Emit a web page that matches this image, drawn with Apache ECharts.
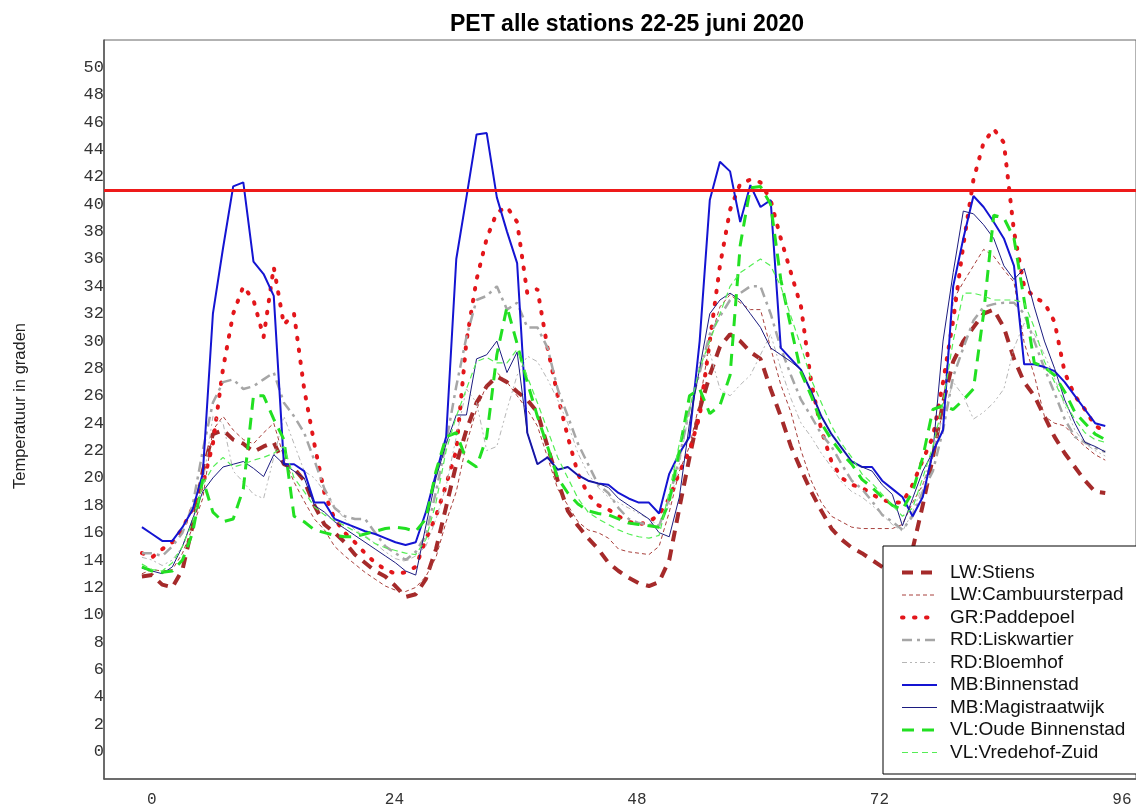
<!DOCTYPE html>
<html>
<head>
<meta charset="utf-8">
<script src="https://cdn.jsdelivr.net/npm/echarts@6/dist/echarts.min.js"></script>
<style>html,body{margin:0;padding:0;background:#fff;}#c{width:1136px;height:808px;}</style>
</head>
<body>
<div id="c"></div>
<script>
// hour index 0..95
const hours = [...Array(96).keys()];
const xTickLabels = [0, 24, 48, 72, 96];
const threshold = 41;

const lwStiens = [12.8,12.9,12.2,12,13.3,16.5,20.5,23.2,23.5,22.8,22.5,21.9,22.3,22.6,21,20.7,19.8,18,16.6,16,15.3,14.4,13.8,13.2,
12.8,12.1,11.3,11.5,12.6,14.8,17.9,21,23.5,25.5,26.7,27.4,27,26.3,25.7,24.8,22.3,19.8,17.6,16.5,15.6,14.8,13.8,13.2,
12.7,12.3,12.1,12.4,14,17.8,21.5,25,27.5,29.6,30.5,30,29.2,28.7,26.5,24.5,22.3,20.6,19,17.6,16.3,15.5,14.9,14.5,
14,13.5,13,13.2,14.8,18,21.5,25.5,28.5,30,31,32,32.3,31,28.7,27,26,24.5,23,21.8,20.8,19.8,19,18.9];
const lwCambuur = [13,13.3,13.2,13.3,14.5,16.4,18.5,23.5,24.5,23.5,22.8,22.5,23.3,24,21.5,19.7,18.3,17,16.2,15,14.3,13.7,13.1,12.6,
12.1,11.8,11.7,12,12.8,14.2,16.8,19,22.5,25,26.8,27.7,27,26,25,23.8,21.5,19.2,18,16.8,16.2,16,15.6,14.8,
14.6,14.5,14.4,15,17.5,20.5,22.3,25.5,30,32.5,33.4,32.8,32.3,32.3,29.5,26.8,24.8,22,19.8,18.2,17.2,16.8,16.4,16.3,
16.3,16.3,16.3,16.6,18.2,19.5,21.5,25,33,34.3,35.5,36.7,36.2,35.2,34.3,29.9,27.5,24.5,24,23.8,23,22.3,21.7,21.3];
const grPaddepoel = [14.5,14.2,14.8,15.3,16.3,17.8,19.5,22.5,28,32,34,33,30.3,35.4,31.2,32,26.5,22.5,18.9,17,16,15.3,14.5,13.8,
13.3,13,13.1,13.5,15.5,17.2,19.5,22,30,34.5,37.5,39.4,39.8,38.7,33.5,33.8,29.5,26,23,20.3,18.8,18,17.7,17.2,
16.8,16.6,16.8,17.3,18.5,20.4,22,24.5,30,35.5,39.6,41.5,41.8,41.6,40.3,37.5,35,32.5,27,23.5,21.2,20,19.5,19.3,
18.8,18.4,18.2,18.2,19.5,21.3,23,27,31.5,37,41.8,44.5,45.5,44.5,38,34,33.2,32.8,31.4,27.7,26,25,23.8,23.4];
const rdLiskwartier = [14.5,14.5,14.3,15,16,18,22,25.5,27,27.2,26.5,26.7,27.2,27.7,25.5,24.5,23.3,21.3,19.2,17.8,17.2,17,17,16,
15,14.5,14,14.6,15.8,19,22.6,26.7,30.3,33,33.3,34,32.3,32.8,31,31,29.5,26.5,24.5,22.5,21,19.5,18.9,17.8,
17,16.7,16.6,16.5,18.5,21.5,25,27.7,30.5,31.8,33,33.5,34,34,32,29.5,27.5,25.7,24.5,23.2,22.3,21,19.8,19.2,
18.3,17.3,16.8,16.2,17.2,19,20.5,23.5,27.4,29.5,31.5,32.5,32.7,32.8,32.8,32,30,28,26.2,24.3,23,22.6,22.2,21.9];
const rdBloemhof = [14.2,14,13.6,14,15,17,19.5,24.5,24,20.5,19.7,18.8,18.5,21.5,24.5,22.5,20.5,20,19,17.9,17,16.2,15.8,15.2,
14.6,14.1,13.9,14.3,15,17,19.4,23,26.5,25.5,22,22.3,25,27.5,28.9,28.5,27.2,25.7,24,21.8,20.3,19.3,18.6,18.2,
17.8,17.4,17,16.5,18,21,25,28.5,29.2,26.5,26,26.8,27.5,29,30.5,28,25.8,24,23,21.8,20.8,19.7,19,18.6,
18,17.3,16.6,16.1,17.5,19.5,22,24.5,27,26,24.3,24.8,25.5,26.5,29.5,31.3,30.5,29,27.3,25.3,23.5,22.5,22,21.6];
const mbBinnenstad = [16.4,15.9,15.4,15.4,16.4,17.7,20.3,32,36.8,41.3,41.6,35.8,34.9,33.3,21,21,20.5,18.2,18.2,17,16.7,16.4,16.1,15.9,
15.6,15.3,15.1,15.3,17.5,20.3,23,36,40.5,45.1,45.2,40.5,38,35.7,23.3,21,21.5,20.6,20.8,20.2,19.8,19.6,19.5,18.9,
18.5,18.2,18.2,17.4,20.3,21.8,23,30,40.3,43.1,42.4,38.7,41.4,39.8,40.3,29.5,28.7,27.9,26.3,24.5,23.2,22.2,21.2,20.8,
20.8,19.8,19.2,18.6,17.2,18.6,21.9,23.5,34,37.5,40.6,39.8,38.7,37.5,35.5,28.3,28.3,28.1,27.8,27,26,25,24,23.8];
const mbMagistraat = [13.4,13.2,13,13.5,15,17,19,20,20.8,21,21.2,20.7,20.1,21.7,21,20.5,20,18,17.5,16.8,16.3,15.8,15.3,14.8,
14.3,13.8,13.2,12.9,16.5,20,22.5,24.6,24.6,28.7,29,30,27.7,29.2,23.3,21,21.5,20.6,20.8,20.2,19.8,19.6,19.3,18.5,
18,17.5,17,16,15.7,18.6,24,28,32,33,33.5,33,32,31,29.5,29,28.5,27.9,26.3,24.5,23.2,22.2,21.2,20.8,
20.5,19.5,18.8,16.5,18.5,20.5,21.9,30,35,39.5,39.3,38.5,37.5,35.5,34.5,35.3,32.5,30,28,25.7,24,22.6,22.3,21.9];
const vlOudeBinnenstad = [13.5,13.2,13.1,13.2,14,16,19.9,17.5,16.8,17,19.2,26,26,24.3,22.8,17.2,16.8,16.2,16,15.8,15.7,15.7,15.9,16.1,
16.3,16.4,16.3,16.1,17,20.5,23,23.3,21.3,20.8,23,29,32.5,29.8,27,24.5,22.3,20,18.9,18.1,17.6,17.4,17.3,17,
16.7,16.6,16.5,16.4,18.3,22,26,26.5,24.7,25.3,27.5,37,41.2,41.3,40,34.5,31,27.7,26,24,22.8,21.8,21,19.9,
19.3,18.6,18,17.7,19,21.5,25,25.3,25,25.7,26.5,32,39.2,39,37.5,33,28.4,28.1,27.5,26.3,24.8,24,23.2,22.8];
const vlVredehof = [13.7,13.3,13.2,13.8,15,16.8,19.5,20.8,21.5,20.8,21,21.3,21.5,21.8,22.3,20,19,17.9,17.3,16.9,16.5,16.1,15.7,15.2,
14.9,14.7,14.5,14.4,15.5,18.2,22,24.5,26.5,28.5,28.8,28.4,28.4,29.4,27.4,25.5,23.5,21.5,20,18.5,17.5,17,16.6,16.2,
15.9,15.7,15.6,15.8,19,22.5,25,28,30,32,34,35,35.5,36,35.5,34,31.8,29.6,27.2,25.5,23.8,22.5,21.5,20.3,
19.6,18.8,18,17.2,17.8,20,22.3,25.5,30,33.5,33.5,33.3,33,33,33,32.8,31,28.5,27,25.5,24.3,23.3,22.8,22.6];

const seriesDefs = [
  {name:'LW:Stiens', data:lwStiens, color:'#a52a2a', width:4, type:[11,8], cap:'butt'},
  {name:'LW:Cambuursterpad', data:lwCambuur, color:'#a8403c', width:1, type:[4,3], cap:'butt'},
  {name:'GR:Paddepoel', data:grPaddepoel, color:'#e3161b', width:4, type:[1.5,10.5], cap:'round'},
  {name:'RD:Liskwartier', data:rdLiskwartier, color:'#a6a6a6', width:2.5, type:[10,5,3,5], cap:'butt'},
  {name:'RD:Bloemhof', data:rdBloemhof, color:'#b6b6b6', width:1, type:[5,3,2,3,2,3], cap:'butt'},
  {name:'MB:Binnenstad', data:mbBinnenstad, color:'#1414d2', width:2, type:'solid', cap:'butt'},
  {name:'MB:Magistraatwijk', data:mbMagistraat, color:'#1c1c80', width:1, type:'solid', cap:'butt'},
  {name:'VL:Oude Binnenstad', data:vlOudeBinnenstad, color:'#22e022', width:3, type:[12,8], cap:'butt'},
  {name:'VL:Vredehof-Zuid', data:vlVredehof, color:'#55ee55', width:1.2, type:[6,4], cap:'butt'}
];

const chart = echarts.init(document.getElementById('c'), null, {renderer:'canvas'});
const series = seriesDefs.map(d => ({
  name: d.name,
  type: 'line',
  xAxisIndex: 0,
  yAxisIndex: 0,
  symbol: 'none',
  silent: true,
  animation: false,
  data: d.data.map((v, i) => [hours[i], v]),
  lineStyle: {color: d.color, width: d.width, type: d.type, cap: d.cap},
  itemStyle: {color: d.color}
}));
series.push({
  name: 'threshold',
  type: 'line',
  xAxisIndex: 0,
  yAxisIndex: 0,
  data: [],
  z: 5,
  silent: true,
  animation: false,
  markLine: {
    silent: true,
    symbol: ['none','none'],
    label: {show: false},
    lineStyle: {color: '#ee1a1a', width: 3, type: 'solid'},
    data: [{yAxis: threshold}]
  }
});

chart.setOption({
  backgroundColor: '#ffffff',
  animation: false,
  title: {
    text: 'PET alle stations 22-25 juni 2020',
    left: 445, top: 8,
    textStyle: {fontFamily: 'Liberation Sans, Arial, sans-serif', fontWeight: 'bold', fontSize: 23, color: '#000'}
  },
  grid: {left: 104, right: -3, top: 40, bottom: 29, show: true, borderColor: '#666', borderWidth: 1, backgroundColor: 'transparent'},
  xAxis: [
    {type: 'value', min: -3.74, max: 98.03, gridIndex: 0,
     axisLine: {show: true, onZero: false, lineStyle: {color: '#555', width: 1.5}},
     axisTick: {show: false}, axisLabel: {show: false}, splitLine: {show: false}},
    {type: 'value', min: -4.736, max: 97.39, gridIndex: 0, position: 'bottom',
     axisLine: {show: false}, axisTick: {show: false}, splitLine: {show: false},
     axisLabel: {show: true, customValues: xTickLabels, margin: 13,
       fontFamily: 'Liberation Mono, DejaVu Sans Mono, monospace', fontSize: 16, color: '#333'}}
  ],
  yAxis: {
    type: 'value', min: -2, max: 52, interval: 2,
    axisLine: {show: true, onZero: false, lineStyle: {color: '#555', width: 1.5}},
    axisTick: {show: false}, splitLine: {show: false},
    axisLabel: {showMinLabel: false, showMaxLabel: false, margin: 0,
      fontFamily: 'Liberation Mono, DejaVu Sans Mono, monospace', fontSize: 17, color: '#333'}
  },
  graphic: [{
    type: 'text', x: 20, y: 406, rotation: Math.PI / 2,
    style: {text: 'Temperatuur in graden', fill: '#222', fontSize: 16.5,
      fontFamily: 'Liberation Sans, Arial, sans-serif', align: 'center', verticalAlign: 'middle'}
  }],
  legend: {
    data: seriesDefs.map(d => ({name: d.name, lineStyle: {width: d.width, type: d.type, color: d.color, cap: d.cap}})),
    orient: 'vertical',
    left: 883, top: 546,
    padding: [17, 30, 12, 17],
    itemWidth: 35, itemHeight: 14, itemGap: 3.5,
    backgroundColor: '#ffffff',
    borderColor: '#000', borderWidth: 1,
    selectedMode: false,
    itemStyle: {opacity: 0, color: 'transparent', borderColor: 'transparent', borderWidth: 0},
    textStyle: {fontFamily: 'Liberation Sans, Arial, sans-serif', fontSize: 19, color: '#111', padding: [0,0,0,8]}
  },
  series: series
});
</script>
</body>
</html>
